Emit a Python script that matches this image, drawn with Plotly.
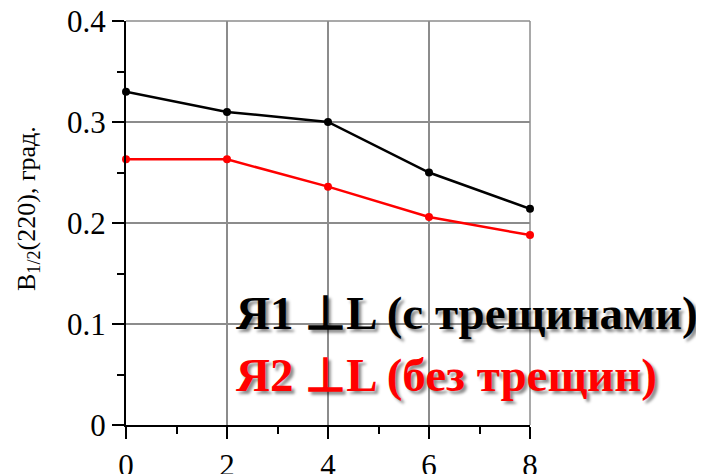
import plotly.graph_objects as go

x_vals = [0, 2, 4, 6, 8]
y_cracked = [0.330, 0.310, 0.300, 0.250, 0.214]
y_nocrack = [0.263, 0.263, 0.236, 0.206, 0.188]
label_cracked = "Я1 ⊥L (с трещинами)"
label_nocrack = "Я2 ⊥L (без трещин)"
y_title = "B<sub>1/2</sub>(220), град."

FONT = "Liberation Serif, Times New Roman, serif"
GRID = "#8c8c8c"

fig = go.Figure()
fig.add_trace(go.Scatter(x=x_vals, y=y_cracked, mode="lines+markers",
                         line=dict(color="black", width=2.5),
                         marker=dict(color="black", size=8), cliponaxis=False,
                         showlegend=False))
fig.add_trace(go.Scatter(x=x_vals, y=y_nocrack, mode="lines+markers",
                         line=dict(color="#ff0000", width=2.5),
                         marker=dict(color="#ff0000", size=8), cliponaxis=False,
                         showlegend=False))

# frame top/right in grid colour
fig.add_shape(type="line", xref="paper", yref="paper", x0=0, x1=1, y0=1, y1=1,
              line=dict(color=GRID, width=1.5), layer="below")
fig.add_shape(type="line", xref="paper", yref="paper", x0=1, x1=1, y0=0, y1=1,
              line=dict(color=GRID, width=1.5), layer="below")

shadow = "3px 3px 3px rgba(0,0,0,0.45)"
fig.add_annotation(x=2.0, y=0.111, xref="x", yref="y", text="<b>" + label_cracked + "</b>",
                   showarrow=False, xanchor="left", yanchor="middle", xshift=7,
                   font=dict(family=FONT, size=47, color="black", shadow=shadow))
fig.add_annotation(x=2.0, y=0.05, xref="x", yref="y", text="<b>" + label_nocrack + "</b>",
                   showarrow=False, xanchor="left", yanchor="middle", xshift=7,
                   font=dict(family=FONT, size=47, color="#ff0000", shadow=shadow))
fig.add_annotation(x=0, y=0.5, xref="paper", yref="paper", text=y_title,
                   showarrow=False, xanchor="center", yanchor="middle",
                   xshift=-98, yshift=14, textangle=-90,
                   font=dict(family=FONT, size=26, color="black"))

fig.update_xaxes(range=[0, 8], tickvals=[0, 2, 4, 6, 8], showgrid=True,
                 gridcolor=GRID, gridwidth=1.5, zeroline=False,
                 showline=True, linecolor="black", linewidth=2,
                 ticks="outside", ticklen=12, tickwidth=2, tickcolor="black",
                 minor=dict(tickvals=[1, 3, 5, 7], ticks="outside", ticklen=7,
                            tickwidth=2, tickcolor="black", showgrid=False),
                 tickfont=dict(family=FONT, size=31, color="black"),
                 ticklabeloverflow="allow", automargin=False)
fig.update_yaxes(range=[0, 0.4], tickvals=[0, 0.1, 0.2, 0.3, 0.4],
                 ticktext=["0", "0.1", "0.2", "0.3", "0.4"], showgrid=True,
                 gridcolor=GRID, gridwidth=1.5, zeroline=False,
                 showline=True, linecolor="black", linewidth=2,
                 ticks="outside", ticklen=12, tickwidth=2, tickcolor="black",
                 minor=dict(tickvals=[0.05, 0.15, 0.25, 0.35], ticks="outside",
                            ticklen=7, tickwidth=2, tickcolor="black", showgrid=False),
                 tickfont=dict(family=FONT, size=31, color="black"),
                 ticklabeloverflow="allow", automargin=False)

fig.update_layout(width=704, height=474, plot_bgcolor="white", paper_bgcolor="white",
                  margin=dict(l=118, r=182, t=13, b=57))

fig.write_html("out.html")
